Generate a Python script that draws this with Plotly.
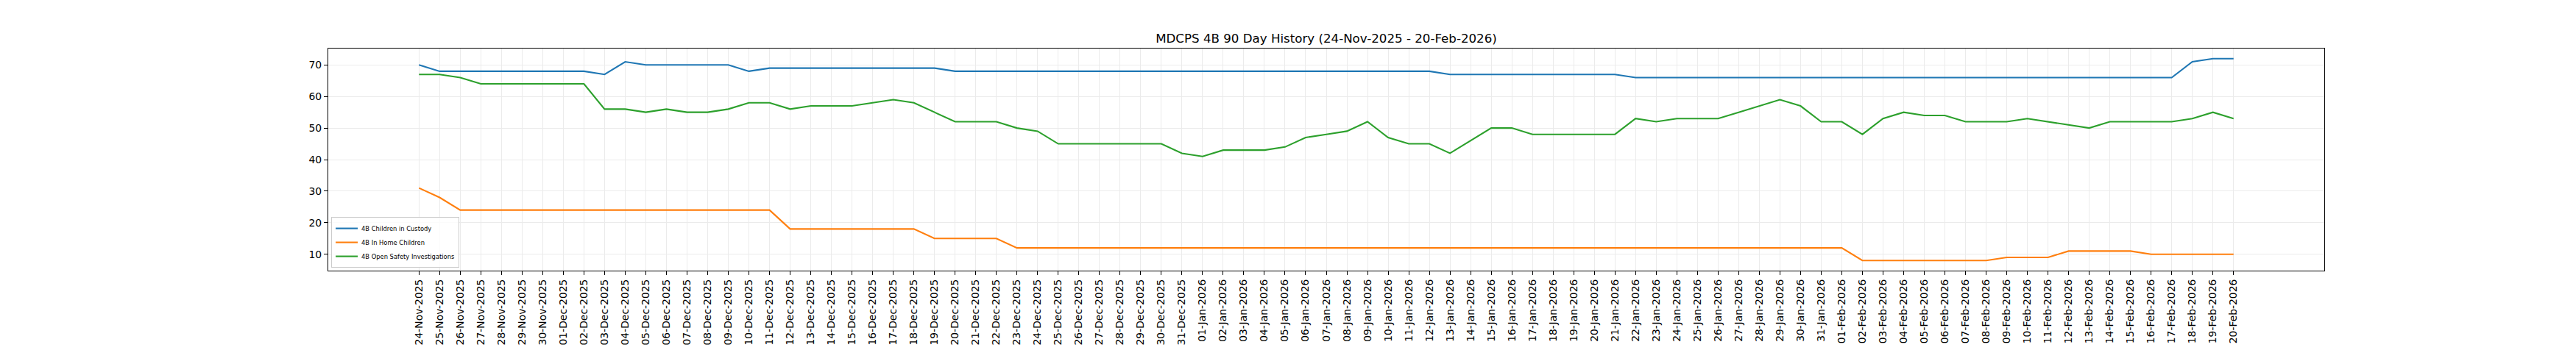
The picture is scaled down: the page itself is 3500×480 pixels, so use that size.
import pandas as pd
import plotly.graph_objects as go

# Categories: one per day, 24-Nov-2025 .. 20-Feb-2026
dates = pd.date_range("2025-11-24", "2026-02-20", freq="D")
date_labels = [d.strftime("%d-%b-%Y") for d in dates]

children_in_custody = [
    70, 68, 68, 68, 68, 68, 68, 68, 68, 67, 71, 70, 70, 70, 70, 70,
    68, 69, 69, 69, 69, 69, 69, 69, 69, 69,
    68, 68, 68, 68, 68, 68, 68, 68, 68, 68, 68, 68, 68, 68, 68, 68,
    68, 68, 68, 68, 68, 68, 68, 68,
    67, 67, 67, 67, 67, 67, 67, 67, 67,
    66, 66, 66, 66, 66, 66, 66, 66, 66, 66, 66, 66, 66, 66, 66, 66,
    66, 66, 66, 66, 66, 66, 66, 66, 66, 66, 66,
    71, 72, 72,
]

in_home_children = [
    31, 28, 24, 24, 24, 24, 24, 24, 24, 24, 24, 24, 24, 24, 24, 24, 24, 24,
    18, 18, 18, 18, 18, 18, 18,
    15, 15, 15, 15,
    12, 12, 12, 12, 12, 12, 12, 12, 12, 12, 12, 12, 12, 12, 12, 12, 12, 12,
    12, 12, 12, 12, 12, 12, 12, 12, 12, 12, 12, 12, 12, 12, 12, 12, 12, 12,
    12, 12, 12, 12, 12,
    8, 8, 8, 8, 8, 8, 8,
    9, 9, 9,
    11, 11, 11, 11,
    10, 10, 10, 10, 10, 10, 10,
]

open_safety_investigations = [
    67, 67, 66, 64, 64, 64, 64, 64, 64, 56, 56, 55, 56, 55, 55, 56,
    58, 58, 56, 57, 57, 57, 58, 59, 58, 55, 52, 52, 52, 50, 49,
    45, 45, 45, 45, 45, 45, 42, 41, 43, 43, 43, 44, 47, 48, 49, 52,
    47, 45, 45, 42, 46, 50, 50, 48, 48, 48, 48, 48, 53, 52, 53, 53,
    53, 55, 57, 59, 57, 52, 52, 48, 53, 55, 54, 54, 52, 52, 52, 53,
    52, 51, 50, 52, 52, 52, 52, 53, 55, 53,
]

series_names = [
    "4B Children in Custody",
    "4B In Home Children",
    "4B Open Safety Investigations",
]
series_values = [children_in_custody, in_home_children, open_safety_investigations]
series_colors = ["#1f77b4", "#ff7f0e", "#2ca02c"]

title_text = "MDCPS 4B 90 Day History (24-Nov-2025 - 20-Feb-2026)"
y_ticks = [10, 20, 30, 40, 50, 60, 70]

FONT = "DejaVu Sans"

fig = go.Figure()
for name, vals, col in zip(series_names, series_values, series_colors):
    fig.add_trace(go.Scatter(
        x=date_labels, y=vals, name=name, mode="lines",
        line=dict(color=col, width=2.1),
    ))

n = len(date_labels)
pad = 0.05 * (n - 1)
all_vals = children_in_custody + in_home_children + open_safety_investigations
vmin, vmax = min(all_vals), max(all_vals)
ypad = 0.05 * (vmax - vmin)

fig.update_layout(
    width=3500, height=480,
    paper_bgcolor="white", plot_bgcolor="white",
    margin=dict(l=438, r=350, t=58, b=120, autoexpand=False),
    font=dict(family=FONT, color="black", size=13.9),
    title=dict(
        text=title_text, x=0.5, xanchor="center", xref="paper",
        y=1 - 50 / 480, yanchor="bottom", yref="container",
        font=dict(family=FONT, size=16.67, color="black"),
        pad=dict(b=0, t=0, l=0, r=0),
    ),
    showlegend=True,
    legend=dict(
        x=0.0015, y=0.013, xanchor="left", yanchor="bottom",
        bgcolor="rgba(255,255,255,0.8)", bordercolor="#cccccc", borderwidth=1,
        font=dict(family=FONT, size=8.33, color="black"),
        tracegroupgap=0, itemwidth=30,
    ),
)

fig.update_xaxes(
    type="category",
    range=[-pad, n - 1 + pad],
    tickmode="array", tickvals=date_labels, ticktext=date_labels,
    tickangle=-90,
    ticks="outside", ticklen=5, tickwidth=1, tickcolor="black",
    showline=True, linecolor="black", linewidth=1.1, mirror=True,
    showgrid=True, gridcolor="#ebebeb", gridwidth=1,
    tickfont=dict(family=FONT, size=13.9, color="black"),
    zeroline=False, automargin=False,
)
fig.update_yaxes(
    range=[vmin - ypad, vmax + ypad],
    tickmode="array", tickvals=y_ticks,
    ticks="outside", ticklen=5, tickwidth=1, tickcolor="black",
    showline=True, linecolor="black", linewidth=1.1, mirror=True,
    showgrid=True, gridcolor="#ebebeb", gridwidth=1,
    tickfont=dict(family=FONT, size=13.9, color="black"),
    zeroline=False, automargin=False,
)

fig.write_html("out.html")
